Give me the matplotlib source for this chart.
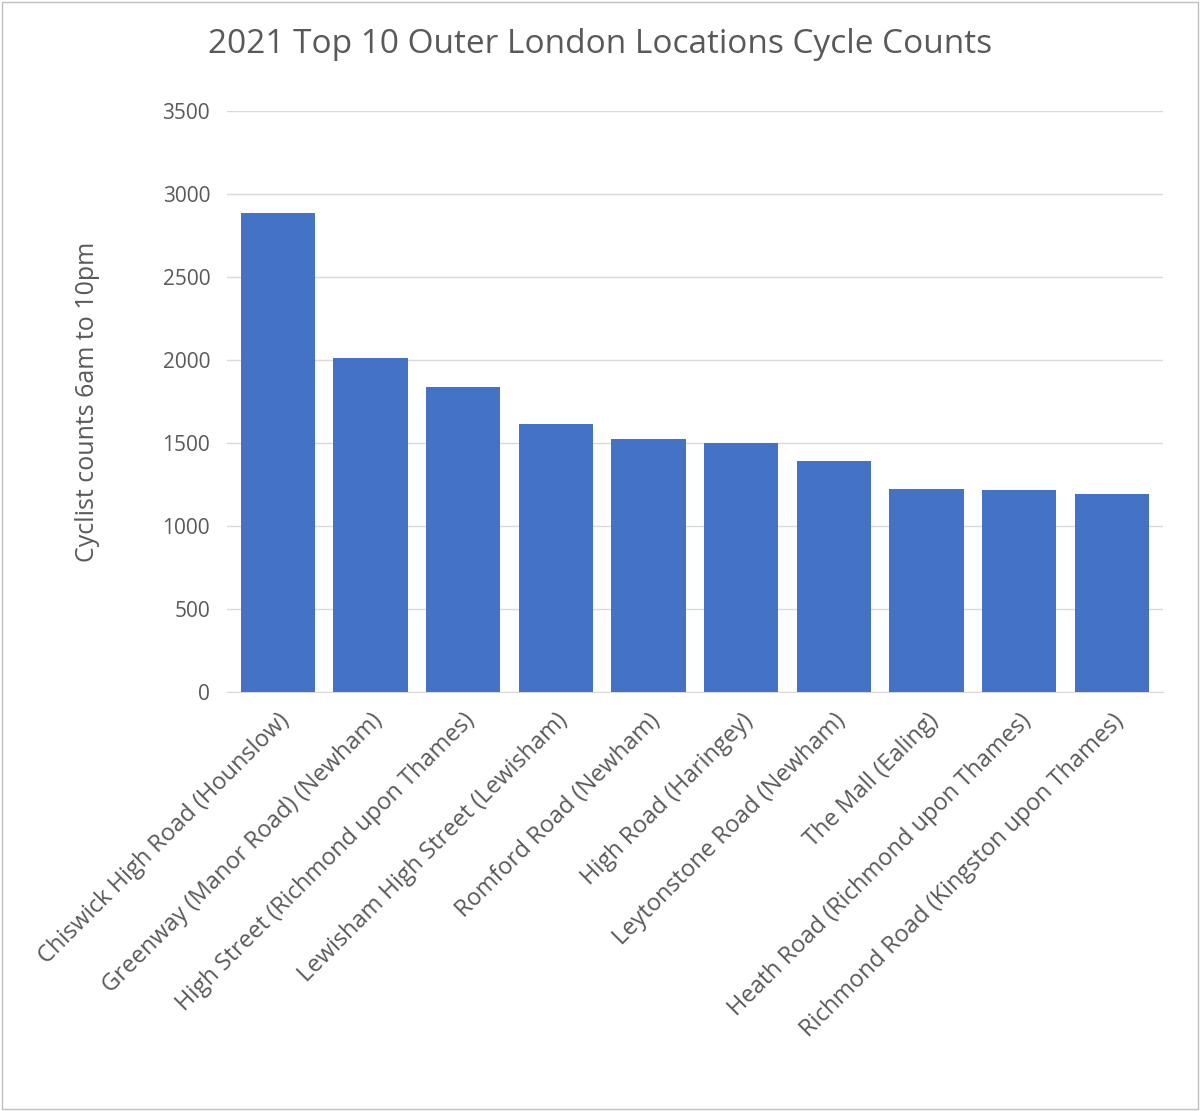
import matplotlib
matplotlib.use('Agg')
import matplotlib.pyplot as plt
from matplotlib.patches import Rectangle

plt.rcParams['font.family'] = ['Open Sans', 'DejaVu Sans']

locations = ['Chiswick High Road (Hounslow)', 'Greenway (Manor Road) (Newham)',
             'High Street (Richmond upon Thames)', 'Lewisham High Street (Lewisham)',
             'Romford Road (Newham)', 'High Road (Haringey)', 'Leytonstone Road (Newham)',
             'The Mall (Ealing)', 'Heath Road (Richmond upon Thames)',
             'Richmond Road (Kingston upon Thames)']
counts = [2885, 2012, 1837, 1615, 1524, 1500, 1392, 1223, 1217, 1193]

fig = plt.figure(figsize=(12, 11.11), dpi=100)
ax = fig.add_axes([0.189, 0.377, 0.78, 0.523])
ax.bar(range(len(counts)), counts, width=0.8, color='#4472C4', zorder=3)
ax.set_xlim(-0.55, len(counts) - 0.45)
ax.set_ylim(0, 3500)
ax.set_yticks(range(0, 3501, 500))
ax.grid(axis='y', color='#D9D9D9', linewidth=1, zorder=0)
for s in ['top', 'right', 'left']:
    ax.spines[s].set_visible(False)
ax.spines['bottom'].set_color('#D9D9D9')
ax.tick_params(length=0, labelsize=15, labelcolor='#595959', pad=12)
ax.set_xticks(range(len(counts)))
ax.set_xticklabels(locations, rotation=45, ha='right', rotation_mode='anchor', fontsize=17)
ax.set_ylabel('Cyclist counts 6am to 10pm', fontsize=18, color='#595959', labelpad=45)
fig.suptitle('2021 Top 10 Outer London Locations Cycle Counts', fontsize=24,
             color='#595959', y=0.975)
fig.patches.append(Rectangle((0.002, 0.002), 0.996, 0.996, transform=fig.transFigure,
                             fill=False, edgecolor='#BFBFBF', linewidth=1))
fig.savefig('out.png')
